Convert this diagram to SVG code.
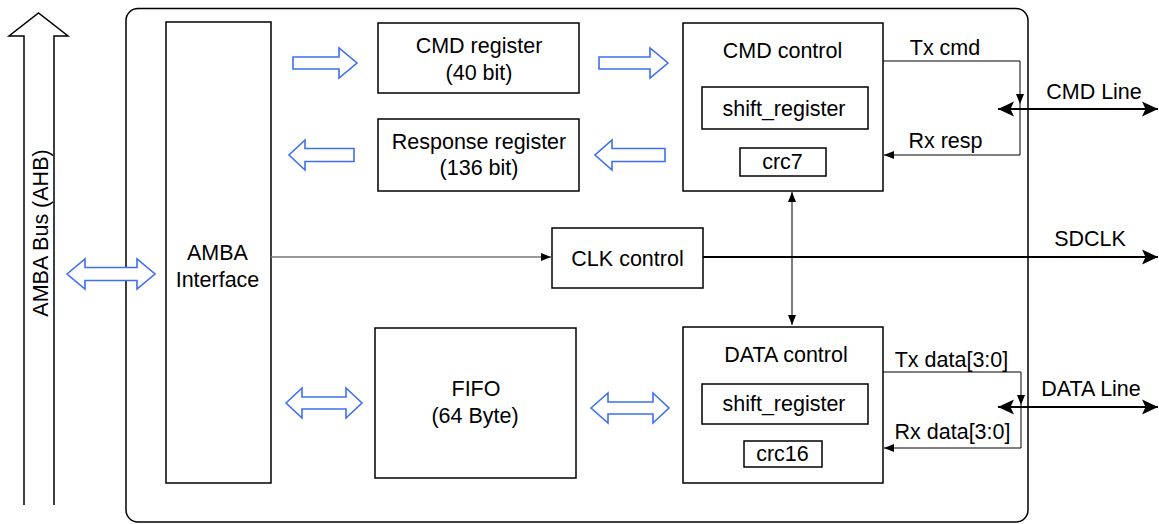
<svg xmlns="http://www.w3.org/2000/svg" width="1159" height="524" viewBox="0 0 1159 524">
<style>
text{font-family:"Liberation Sans",Arial,sans-serif;font-size:21.5px;fill:#000;text-anchor:middle}
.box{fill:#fff;stroke:#000;stroke-width:1.5}
.blue{fill:#fff;stroke:#3d6ff0;stroke-width:1.6;stroke-linejoin:miter}
.thin{fill:none;stroke:#000;stroke-width:1}
.bold{fill:none;stroke:#000;stroke-width:2}
.gray{fill:none;stroke:#777;stroke-width:1.5}
</style>
<defs>
<marker id="sm" markerUnits="userSpaceOnUse" markerWidth="10" markerHeight="10" viewBox="0 0 10 10" refX="10" refY="5" orient="auto-start-reverse"><path d="M0,1 L10,5 L0,9 Z" fill="#000"/></marker>
<marker id="big" markerUnits="userSpaceOnUse" markerWidth="16" markerHeight="16" viewBox="0 0 16 16" refX="16" refY="8" orient="auto-start-reverse"><path d="M0,0.5 L16,8 L0,15.5 L3.5,8 Z" fill="#000"/></marker>
</defs>
<rect width="1159" height="524" fill="#fff"/>
<rect id="outer" x="126" y="8.5" width="902" height="513.5" rx="12" fill="none" stroke="#000" stroke-width="1.5"/>
<g id="amba-bus">
<polyline points="24,505 24,36 9,36 38.5,13 68,36 54,36 54,505" fill="none" stroke="#000" stroke-width="1.5"/>
<text transform="translate(48,233) rotate(-90)">AMBA Bus (AHB)</text>
</g>
<g id="amba-interface">
<rect class="box" x="166" y="22" width="105" height="461"/>
<text x="217.5" y="260">AMBA</text>
<text x="217.5" y="287">Interface</text>
</g>
<g id="cmd-register">
<rect class="box" x="378" y="23" width="201" height="70"/>
<text x="479" y="52.5">CMD register</text>
<text x="479" y="80">(40 bit)</text>
</g>
<g id="response-register">
<rect class="box" x="378" y="119" width="201" height="72"/>
<text x="479" y="149">Response register</text>
<text x="479" y="175">(136 bit)</text>
</g>
<g id="cmd-control">
<rect class="box" x="683" y="23" width="200" height="168"/>
<text x="782.5" y="58">CMD control</text>
<rect class="box" x="702" y="87" width="166" height="42"/>
<text x="784" y="115.5">shift_register</text>
<rect class="box" x="740" y="148" width="86" height="28"/>
<text x="782.5" y="168.5">crc7</text>
</g>
<g id="clk-control">
<rect class="box" x="552" y="228" width="151" height="60"/>
<text x="627.5" y="265.5">CLK control</text>
</g>
<g id="fifo">
<rect class="box" x="375" y="328" width="201" height="150"/>
<text x="476" y="396">FIFO</text>
<text x="475" y="423">(64 Byte)</text>
</g>
<g id="data-control">
<rect class="box" x="683" y="327" width="200" height="156"/>
<text x="786" y="362">DATA control</text>
<rect class="box" x="702" y="384" width="166" height="40"/>
<text x="784" y="411">shift_register</text>
<rect class="box" x="744" y="441" width="78" height="26"/>
<text x="782.5" y="461">crc16</text>
</g>
<g id="connectors">
<path class="blue" d="M67,274 L85,259 V267.5 H137 V259 L155,274 L137,289 V280.5 H85 V289 Z"/>
<path class="blue" d="M293,57 H339 V48 L357,63 L339,78 V69 H293 Z"/>
<path class="blue" d="M599,57 H650 V48 L668,63 L650,78 V69 H599 Z"/>
<path class="blue" d="M354,148.5 H305 V140 L289,155 L305,170 V161.5 H354 Z"/>
<path class="blue" d="M665,148.5 H612 V140 L595,155 L612,170 V161.5 H665 Z"/>
<path class="blue" d="M286,403 L302,388 V397 H346 V388 L362,403 L346,418 V409 H302 V418 Z"/>
<path class="blue" d="M591,408 L608,393 V402 H653 V393 L669,408 L653,423 V414 H608 V423 Z"/>
<path class="gray" d="M271,257 H551" marker-end="url(#sm)"/>
<path class="bold" d="M703,257 H1158" marker-end="url(#big)"/>
<path class="thin" d="M792,192 V325" marker-start="url(#sm)" marker-end="url(#sm)"/>
<path class="thin" d="M883,61 H1020 V104" marker-end="url(#sm)"/>
<path class="thin" d="M1020,104 V155 H884" marker-end="url(#sm)"/>
<path class="bold" d="M998,109 H1158" marker-start="url(#big)" marker-end="url(#big)"/>
<path class="thin" d="M883,372 H1021 V405" marker-end="url(#sm)"/>
<path class="thin" d="M1021,405 V448 H884" marker-end="url(#sm)"/>
<path class="bold" d="M998,407 H1158" marker-start="url(#big)" marker-end="url(#big)"/>
</g>
<g id="labels">
<text x="945" y="55">Tx cmd</text>
<text x="945.5" y="148">Rx resp</text>
<text x="1094" y="99">CMD Line</text>
<text x="1090" y="246">SDCLK</text>
<text x="951.5" y="367">Tx data[3:0]</text>
<text x="952.5" y="439">Rx data[3:0]</text>
<text x="1091" y="396">DATA Line</text>
</g>
</svg>
